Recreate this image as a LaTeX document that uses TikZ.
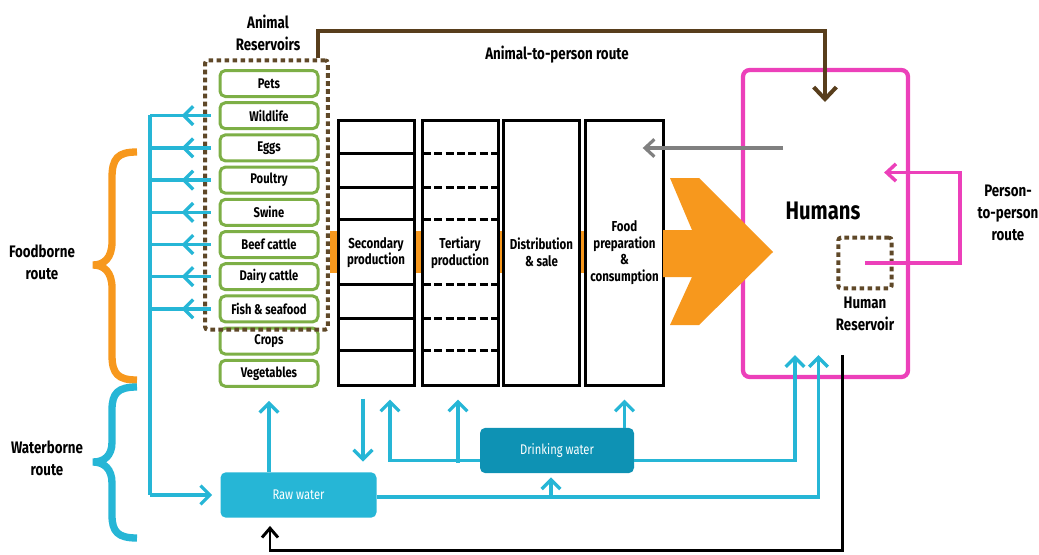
\documentclass[tikz,border=0pt]{standalone}
\usepackage{fontspec}
\setmainfont{Fira Sans}[FakeStretch=0.8]
\usetikzlibrary{arrows.meta,calc}

\definecolor{srcgreen}{RGB}{125,175,70}
\definecolor{resbrown}{RGB}{95,72,40}
\definecolor{routebrown}{RGB}{88,62,28}
\definecolor{watercyan}{RGB}{38,182,214}
\definecolor{drinkblue}{RGB}{14,146,180}
\definecolor{foodorange}{RGB}{247,152,29}
\definecolor{humanpink}{RGB}{236,64,186}
\definecolor{backgray}{RGB}{128,128,128}

\tikzset{
  src/.style={draw=srcgreen, line width=2.25pt, rounded corners=4pt, fill=white,
    minimum width=73.5pt, minimum height=19.5pt, font=\fontsize{10.5}{12}\selectfont\bfseries},
  stage/.style={draw=black, line width=2.25pt, fill=white, minimum width=57pt,
    minimum height=198.75pt, align=center, font=\fontsize{10.8}{12.4}\selectfont\bfseries},
  water/.style={rounded corners=4pt, text=white, minimum width=117pt, minimum height=34pt,
    font=\fontsize{10.5}{12}\selectfont},
  resbox/.style={draw=resbrown, line width=3pt, dash pattern=on 3.5pt off 2.5pt, rounded corners=2pt},
  humanbox/.style={draw=humanpink, line width=3.2pt, rounded corners=5pt,
    minimum width=123.75pt, minimum height=230.25pt},
  lbl/.style={align=center, font=\fontsize{12.5}{16.5}\selectfont\bfseries},
  wline/.style={draw=watercyan, line width=2.5pt},
  warrow/.style={wline, -{Straight Barb[length=7pt,width=14pt]}},
  brownarrow/.style={draw=routebrown, line width=3pt, -{Straight Barb[length=9pt,width=17pt]}},
  grayarrow/.style={draw=backgray, line width=2.4pt, -{Straight Barb[length=7pt,width=13pt]}},
  magarrow/.style={draw=humanpink, line width=2.6pt, -{Straight Barb[length=7pt,width=13pt]}},
  blackarrow/.style={draw=black, line width=2.2pt, -{Straight Barb[length=7pt,width=12pt]}},
  routebrace/.style={line width=5.5pt, line cap=butt},
}

\begin{document}
\begin{tikzpicture}[x=0.75pt, y=-0.75pt]
    \useasboundingbox (0,0) rectangle (1039,554);

    % Animal and plant sources
    \foreach \name/\txt [count=\i from 0] in {pets/Pets, wild/Wildlife, eggs/Eggs,
        poultry/Poultry, swine/Swine, beef/Beef cattle, dairy/Dairy cattle,
        fish/Fish \& seafood, crops/Crops, veg/Vegetables}
        \node [src] (\name) at (269,83.5+32.2*\i) {\txt};
    \node [resbox, minimum width=92pt, minimum height=202pt] (animres) at (266.5,195) {};
    \node [lbl] (animlbl) at (268,33) {Animal\\Reservoirs};

    % Food chain stages
    \foreach \x in {330,414,497,580}
        \fill [foodorange] (\x,231) rectangle (\x+8,273);
    \node [stage] (sec)  at (376,252.5)   {Secondary\\production};
    \node [stage] (ter)  at (460,252.5)   {Tertiary\\production};
    \node [stage] (dist) at (541.5,252.5) {Distribution\\\& sale};
    \node [stage] (food) at (624.5,252.5) {Food\\preparation\\\&\\consumption};
    \foreach \y in {153,187,219,284,318,350} {
        \draw [line width=2.25pt] (338,\y) -- (414,\y);
        \draw [line width=2.25pt, dash pattern=on 6pt off 2.5pt] (423,\y) -- (497,\y);
    }

    % Humans
    \node [humanbox] (humans) at (825.5,223.5) {};
    \node [font=\fontsize{19}{20}\selectfont\bfseries] (humlbl) at (823,211) {Humans};
    \node [resbox, minimum width=40pt, minimum height=38pt] (hres) at (865,263) {};
    \node [lbl] (hreslbl) at (865,314) {Human\\Reservoir};
    \fill [foodorange] (670,178) -- (699,178) -- (773,252) -- (699,325) -- (670,325)
        -- (692,277) -- (663,277) -- (663,230) -- (692,230) -- cycle;

    % Water
    \node [water, fill=watercyan] (raw) at (298.5,495) {Raw water};
    \node [water, fill=drinkblue, minimum width=115.5pt] (dw) at (557,450.5) {Drinking water};

    % Route labels
    \node [lbl] (food-route)   at (42,262)   {Foodborne\\route};
    \node [lbl] (water-route)  at (47,458)   {Waterborne\\route};
    \node [lbl] (a2p-route)    at (557,55)   {Animal-to-person route};
    \node [lbl] (p2p-route)    at (1008,213) {Person-\\to-person\\route};
    \draw [routebrace, draw=foodorange] (137,152) .. controls (118,152) and (112,158) .. (112,178)
        -- (112,242) .. controls (112,258) and (104,265) .. (93,265)
        .. controls (104,265) and (112,272) .. (112,288)
        -- (112,355) .. controls (112,374) and (118,380) .. (137,380);
    \draw [routebrace, draw=watercyan] (137,387) .. controls (118,387) and (112,393) .. (112,410)
        -- (112,442) .. controls (112,456) and (104,462) .. (93,462)
        .. controls (104,462) and (112,469) .. (112,483)
        -- (112,515) .. controls (112,532) and (118,538) .. (137,538);

    % Foodborne branches
    \coordinate (trunk) at (150,115);
    \draw [wline] (trunk) -- (trunk |- raw.west);
    \draw [warrow] (trunk |- raw.west) -- ($(raw.west)+(-8,0)$);
    \foreach \name in {wild,eggs,poultry,swine,beef,dairy,fish} {
        \draw [wline] ($(\name.west)+(-8,0)$) -- (\name.west -| trunk);
        \draw [warrow] ($(\name.west)+(-8,0)$) -- ($(\name.west)+(-37,0)$);
    }

    % Waterborne paths
    \draw [warrow] (raw.north -| veg.south) -- ($(veg.south)+(0,13)$);
    \draw [warrow] ($(sec.south)+(-13,12)$) -- ($(sec.south)+(-13,75)$);
    \draw [warrow] ($(dw.west)+(0,10)$) -| ($(sec.south)+(14,13)$);
    \draw [warrow] ($(ter.south)+(-2,76)$) -- ($(ter.south)+(-2,13)$);
    \draw [warrow] (dw.north -| food.south) -- ($(food.south)+(0,13)$);
    \draw [warrow] ($(dw.east)+(0,10)$) -| ($(humans.south)+(-30.5,-24)$);
    \draw [warrow] ($(raw.east)+(0,2)$) -| ($(humans.south)+(-7,-24)$);
    \draw [warrow] ($(dw.south |- raw.east)+(-6,2)$) -- ($(dw.south)+(-6,4)$);

    % Other routes
    \coordinate (a2p) at (825,102);
    \coordinate (gstart) at (783,148);
    \draw [brownarrow] ($(animres.north east)+(-12,0)$) -- ++(0,-27) -| (a2p);
    \draw [grayarrow] (gstart) -- ($(food.east |- gstart)+(-22,0)$);
    \draw [magarrow] (hres.center) -- ++(95,0) |- ($(humans.east)+(-26,-51)$);
    \draw [blackarrow] ($(humans.south)+(17,-24)$) -- ++(0,195) -| ($(raw.south)+(-28.5,8)$);
\end{tikzpicture}
\end{document}
